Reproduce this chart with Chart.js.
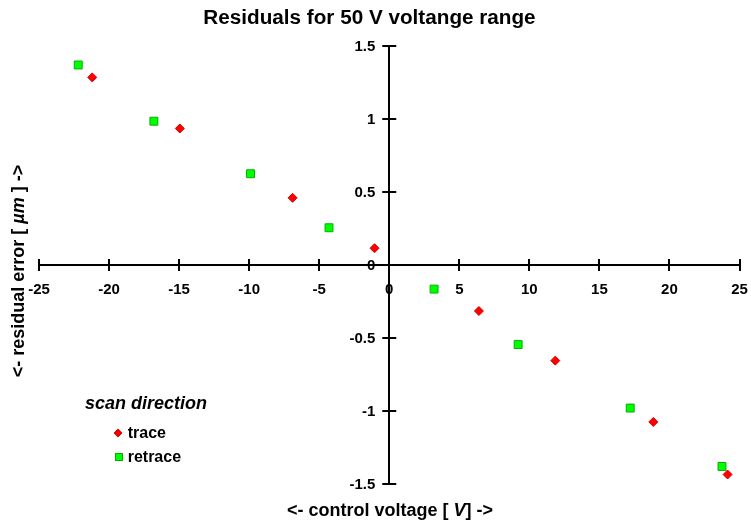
<!DOCTYPE html>
<html><head><meta charset="utf-8">
<script src="https://cdn.jsdelivr.net/npm/chart.js@4/dist/chart.umd.min.js"></script>
<style>
html,body{margin:0;padding:0;background:#fff;}
#wrap{position:relative;width:751px;height:525px;overflow:hidden;}
#c{position:absolute;left:0;top:0;}
.t{position:absolute;font-family:"Liberation Sans",Arial,sans-serif;font-weight:bold;color:#000;white-space:nowrap;}
.mk{position:absolute;box-sizing:border-box;}
</style></head><body>
<div id="wrap">
<canvas id="c" width="751" height="525"></canvas>
<div class="t" id="title" style="font-size:20.7px;line-height:20.7px;left:169.5px;width:400px;text-align:center;top:6.5px">Residuals for 50 V voltange range</div>
<div class="t" id="xtitle" style="font-size:18px;line-height:18px;left:190px;width:400px;text-align:center;top:501px">&lt;- control voltage [ <i>V</i>] -&gt;</div>
<div class="t" id="ytitle" style="font-size:18px;line-height:18px;left:-132px;width:300px;text-align:center;top:261.5px;transform:rotate(-90deg);transform-origin:50% 50%">&lt;- residual error [ <i>µm</i> ] -&gt;</div>
<div class="t" style="font-size:18px;line-height:18px;left:85px;top:393.7px;font-style:italic">scan direction</div>
<div class="mk" id="mk1" style="left:115.3px;top:430px;width:6px;height:6px;background:#ff0000;border:1px solid #d00000;transform:rotate(45deg)"></div>
<div class="t" id="lg1" style="font-size:16px;line-height:16px;left:127.7px;top:425px">trace</div>
<div class="mk" id="mk2" style="left:114.5px;top:453.3px;width:8px;height:8px;background:#00ff00;border:1px solid #00b000"></div>
<div class="t" id="lg2" style="font-size:16px;line-height:16px;left:127.7px;top:449px">retrace</div>
</div>
<script>
// scan direction: trace
const traceX = [-21.2, -14.95, -6.9, -1.05, 6.4, 11.85, 18.85, 24.15];
const traceY = [1.285, 0.935, 0.46, 0.115, -0.315, -0.655, -1.075, -1.435];
// scan direction: retrace
const retraceX = [-22.2, -16.8, -9.9, -4.3, 3.2, 9.2, 17.2, 23.75];
const retraceY = [1.37, 0.985, 0.625, 0.255, -0.165, -0.545, -0.98, -1.38];
// axis ranges / tick steps
const xRange = [-25, 25];
const xStep = 5;
const yRange = [-1.5, 1.5];
const yStep = 0.5;

const FONT = '"Liberation Sans", Arial, sans-serif';
const fmt = v => String(Number(v.toFixed(3)));

const crossAxes = {
  id: 'crossAxes',
  beforeDatasetsDraw(chart) {
    const ctx = chart.ctx;
    const xs = chart.scales.x, ys = chart.scales.y;
    const x0 = xs.getPixelForValue(0), y0 = ys.getPixelForValue(0);
    ctx.save();
    ctx.strokeStyle = '#000';
    ctx.lineWidth = 2;
    ctx.beginPath();
    xs.ticks.forEach(t => {
      const p = Math.round(xs.getPixelForValue(t.value));
      ctx.moveTo(p, y0 - 6); ctx.lineTo(p, y0 + 6);
    });
    ys.ticks.forEach(t => {
      const p = Math.round(ys.getPixelForValue(t.value));
      ctx.moveTo(x0 - 7, p); ctx.lineTo(x0 + 7, p);
    });
    ctx.stroke();
    // y tick labels, left of the vertical axis
    ctx.fillStyle = '#000';
    ctx.font = 'bold 15px ' + FONT;
    ctx.textAlign = 'right';
    ctx.textBaseline = 'middle';
    ys.ticks.forEach(t => {
      const p = ys.getPixelForValue(t.value);
      ctx.fillText(fmt(t.value), x0 - 14, p + 1);
    });
    ctx.restore();
  }
};

new Chart(document.getElementById('c'), {
  type: 'scatter',
  data: {
    datasets: [
      {
        label: 'trace',
        data: traceX.map((x, i) => ({x: x, y: traceY[i]})),
        pointStyle: 'rectRot',
        pointRadius: 4.5,
        backgroundColor: '#ff0000',
        borderColor: '#d00000',
        borderWidth: 1
      },
      {
        label: 'retrace',
        data: retraceX.map((x, i) => ({x: x, y: retraceY[i]})),
        pointStyle: 'rect',
        pointRadius: 5.6,
        backgroundColor: '#00ff00',
        borderColor: '#00b000',
        borderWidth: 1
      }
    ]
  },
  options: {
    responsive: false,
    animation: false,
    devicePixelRatio: 1,
    events: [],
    layout: {padding: {left: 39, right: 11.5, top: 46, bottom: 41}},
    plugins: {
      legend: {display: false},
      tooltip: {enabled: false},
      title: {display: false}
    },
    scales: {
      x: {
        type: 'linear',
        position: {y: 0},
        min: xRange[0], max: xRange[1],
        ticks: {stepSize: xStep, color: '#000', padding: 16, maxRotation: 0,
                font: {family: FONT, size: 15, weight: 'bold'},
                callback: v => fmt(v)},
        grid: {display: true, drawOnChartArea: false, drawTicks: false},
        border: {display: true, color: '#000', width: 2},
        afterFit(s) { s.height = 0; s.paddingLeft = 0; s.paddingRight = 0; }
      },
      y: {
        type: 'linear',
        position: {x: 0},
        min: yRange[0], max: yRange[1],
        ticks: {stepSize: yStep, display: false},
        grid: {display: true, drawOnChartArea: false, drawTicks: false},
        border: {display: true, color: '#000', width: 2},
        afterFit(s) { s.width = 0; s.paddingTop = 0; s.paddingBottom = 0; }
      }
    }
  },
  plugins: [crossAxes]
});
</script>
</body></html>
